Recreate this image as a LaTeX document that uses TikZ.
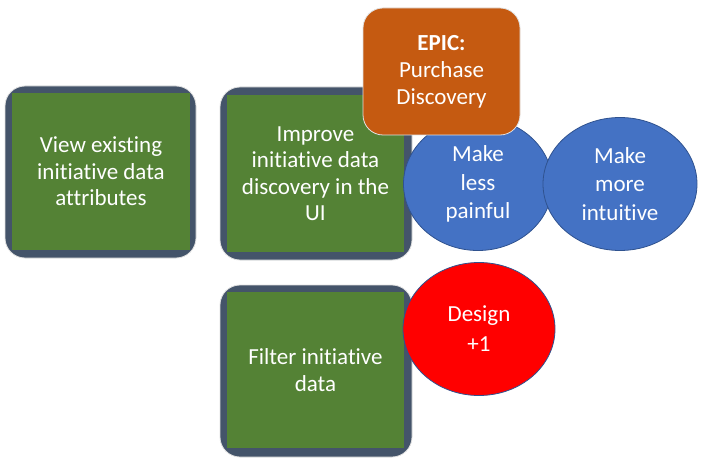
\documentclass[tikz,border=0pt]{standalone}
\usepackage{fontspec}
\setmainfont[Ligatures=NoCommon]{Carlito}
\usepackage{tikz}
\usetikzlibrary{shapes.geometric}

\definecolor{storygreen}{HTML}{548235}
\definecolor{frameslate}{HTML}{44546A}
\definecolor{epicorange}{HTML}{C55A11}
\definecolor{ideablue}{HTML}{4472C4}
\definecolor{ideaedge}{HTML}{2F528F}
\definecolor{votered}{HTML}{FF0000}

\begin{document}
\begin{tikzpicture}[x=1pt,y=-1pt]

	\tikzstyle frame=[fill=frameslate, draw=black!12, line width=0.8pt, rounded corners=20pt, inner sep=0pt];
	\tikzstyle story=[fill=storygreen, inner sep=0pt, text=white, align=center, font=\fontsize{23}{26.5}\selectfont];
	\tikzstyle idea=[ellipse, fill=ideablue, draw=ideaedge, line width=0.8pt, inner sep=0pt, text=white, align=center, font=\fontsize{23}{28.5}\selectfont];
	\tikzstyle epic=[fill=epicorange, draw=black!12, line width=0.8pt, rounded corners=20pt, inner sep=0pt, text=white, align=center, font=\fontsize{23}{27}\selectfont];

	\useasboundingbox (0,0) rectangle (703,462);

	% user stories
	\node[frame, minimum width=191pt, minimum height=172pt] (view frame) at (100.5,172) {};
	\node[story, minimum width=178pt, minimum height=157pt] (view) at (101,171.5) {View existing\\initiative data\\attributes};

	\node[frame, minimum width=192pt, minimum height=173pt] (improve frame) at (316,173.5) {};
	\node[story, minimum width=177pt, minimum height=157pt] (improve) at (315.5,173.5) {Improve\\initiative data\\discovery in the\\UI};

	\node[frame, minimum width=192pt, minimum height=172pt] (filter frame) at (316,371) {};
	\node[story, minimum width=177pt, minimum height=156pt] (filter) at (315.5,370) {Filter initiative\\data};

	% ideas
	\node[idea, minimum width=149pt, minimum height=133pt] (less painful) at (478,184) {Make\\less\\painful};
	\node[idea, minimum width=154pt, minimum height=133pt] (more intuitive) at (620,184) {Make\\more\\intuitive};
	\node[idea, fill=votered, font=\fontsize{23}{30}\selectfont, minimum width=152pt, minimum height=133pt] (design) at (479,329) {Design\\+1};

	% epic on top
	\node[epic, minimum width=157pt, minimum height=127pt] (epic) at (441.5,71.5) {\textbf{EPIC:}\\Purchase\\Discovery};

\end{tikzpicture}
\end{document}
